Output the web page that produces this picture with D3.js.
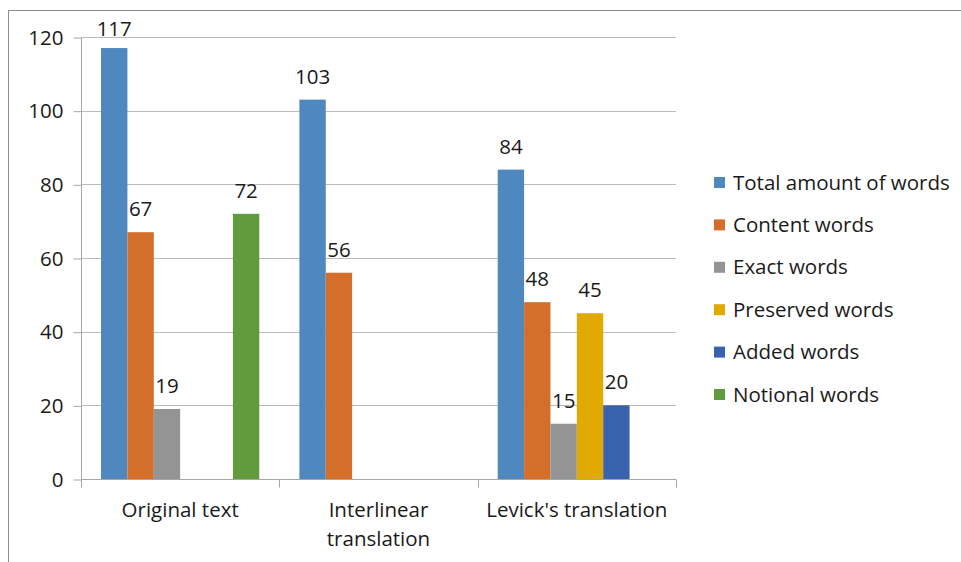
<!DOCTYPE html>
<html><head><meta charset="utf-8">
<script src="https://cdn.jsdelivr.net/npm/d3@7"></script>
<style>body{margin:0;background:#fff}svg{display:block;font-family:"Open Sans",sans-serif}</style>
</head><body><svg id="c" width="961" height="562"></svg>
<script>
const categories = ["Original text", "Interlinear translation", "Levick's translation"];
const categoryLines = [["Original text"], ["Interlinear", "translation"], ["Levick's translation"]];
const seriesNames = ["Total amount of words", "Content words", "Exact words", "Preserved words", "Added words", "Notional words"];
const totalWords = [117, 103, 84];
const contentWords = [67, 56, 48];
const exactWords = [19, null, 15];
const preservedWords = [null, null, 45];
const addedWords = [null, null, 20];
const notionalWords = [72, null, null];
const yTicks = [0, 20, 40, 60, 80, 100, 120];
const colors = ["#4f87bf", "#d46e2b", "#949494", "#e2a900", "#3a63ae", "#629b3e"];

const FS = 20.5;
const seriesValues = [totalWords, contentWords, exactWords, preservedWords, addedWords, notionalWords];
const svg = d3.select("#c");
const W = 961, H = 562;
const m = {left: 81, right: 676, top: 37, bottom: 479};

// outer frame
svg.append("rect").attr("x", 8.5).attr("y", 10.5).attr("width", W).attr("height", H)
  .attr("fill", "#fff").attr("stroke", "#8c8c8c").attr("stroke-width", 1);

const y = d3.scaleLinear().domain([0, 120]).range([m.bottom, m.top]);
const x0 = d3.scaleBand().domain(categories).range([m.left, m.right]).paddingInner(0).paddingOuter(0);
const x1 = d3.scaleBand().domain(seriesNames).range([0, x0.bandwidth()]).paddingOuter(0.76).paddingInner(0);

// gridlines
svg.append("g").selectAll("line").data(yTicks.filter(d => d > 0)).join("line")
  .attr("x1", m.left).attr("x2", m.right)
  .attr("y1", d => Math.round(y(d)) + 0.5).attr("y2", d => Math.round(y(d)) + 0.5)
  .attr("stroke", "#bcbcbc").attr("stroke-width", 1);

// y axis
const yAxis = d3.axisLeft(y).tickValues(yTicks).tickSize(8).tickPadding(10);
const gy = svg.append("g").attr("transform", `translate(${m.left + 0.5},0.5)`).call(yAxis);
gy.select(".domain").attr("stroke", "#a6a6a6").attr("d", `M-0,${m.top}V${m.bottom + 8}`);
gy.selectAll(".tick line").attr("stroke", "#a6a6a6");
gy.selectAll(".tick text").attr("font-size", FS).attr("fill", "#1a1a1a").attr("font-family", "Open Sans");

// bars
const data = [];
categories.forEach((c, ci) => seriesNames.forEach((s, si) => {
  const v = seriesValues[si][ci];
  if (v != null) data.push({c, s, si, v});
}));
svg.append("g").selectAll("rect").data(data).join("rect")
  .attr("x", d => x0(d.c) + x1(d.s))
  .attr("width", x1.bandwidth())
  .attr("y", d => y(d.v))
  .attr("height", d => y(0) - y(d.v))
  .attr("fill", d => colors[d.si]);

// labels
svg.append("g").selectAll("text").data(data).join("text")
  .attr("x", d => x0(d.c) + x1(d.s) + x1.bandwidth() / 2)
  .attr("y", d => Math.max(y(d.v) - 16, 36))
  .attr("text-anchor", "middle").attr("font-size", FS).attr("fill", "#1a1a1a")
  .text(d => d.v);

// x axis
const gx = svg.append("g").attr("transform", `translate(0,${m.bottom + 0.5})`);
gx.append("line").attr("x1", m.left).attr("x2", m.right).attr("stroke", "#a6a6a6");
const bounds = categories.map(c => x0(c)).concat([m.right]);
gx.selectAll("line.t").data(bounds).join("line").attr("class", "t")
  .attr("x1", d => Math.round(d) + 0.5).attr("x2", d => Math.round(d) + 0.5)
  .attr("y1", 0).attr("y2", 8).attr("stroke", "#a6a6a6");
categories.forEach((c, i) => {
  const t = gx.append("text").attr("x", x0(c) + x0.bandwidth() / 2).attr("y", 37)
    .attr("text-anchor", "middle").attr("font-size", FS).attr("fill", "#1a1a1a");
  categoryLines[i].forEach((l, j) => t.append("tspan").attr("x", x0(c) + x0.bandwidth() / 2).attr("dy", j ? 29 : 0).text(l));
});

// legend
const lg = svg.append("g");
const ly = d3.scalePoint().domain(seriesNames).range([182, 394]);
seriesNames.forEach((s, i) => {
  lg.append("rect").attr("x", 714).attr("y", ly(s) - 5).attr("width", 11).attr("height", 11).attr("fill", colors[i]);
  lg.append("text").attr("x", 733).attr("y", ly(s) + 7.5).attr("font-size", FS).attr("fill", "#1a1a1a").text(s);
});
</script></body></html>
